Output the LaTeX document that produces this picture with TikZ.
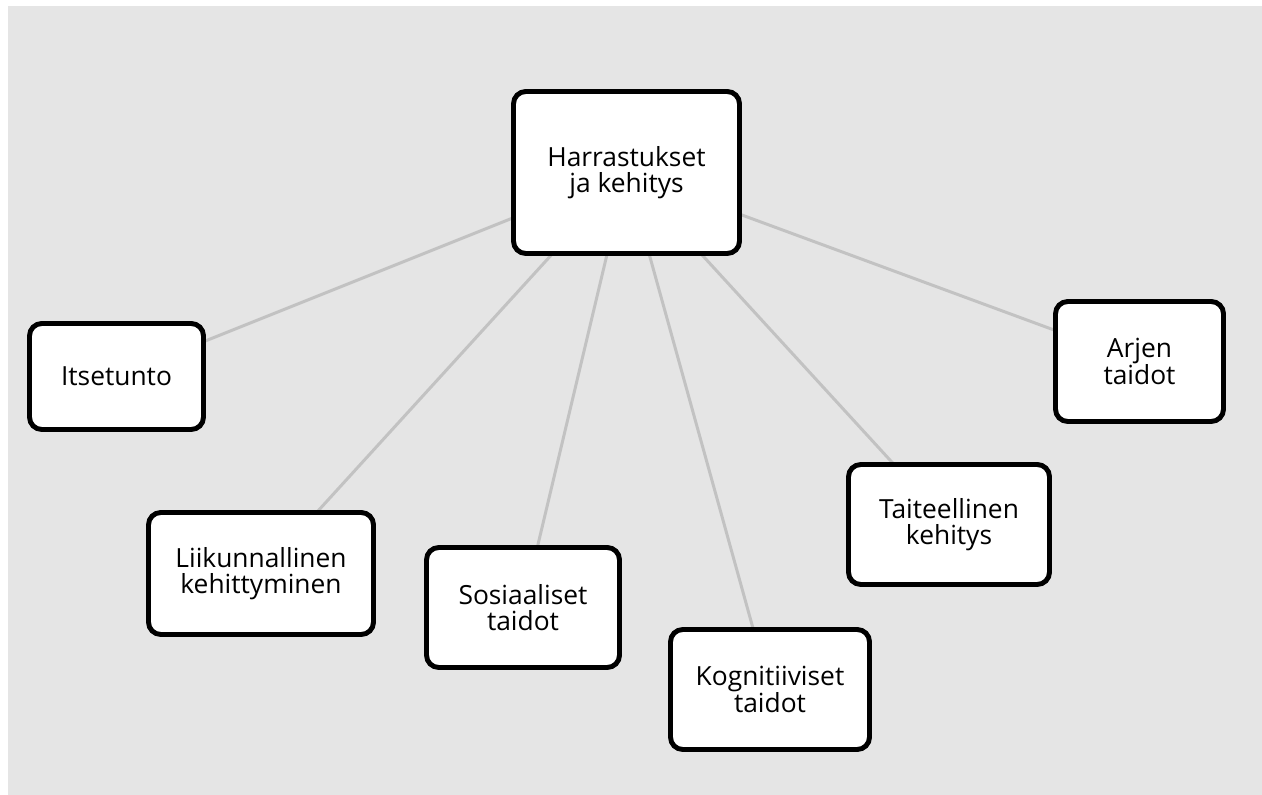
\documentclass[tikz,border=0pt]{standalone}
\usepackage{fontspec}
\setmainfont{Open Sans}
\usepackage{xcolor}
\usepackage{tikz}
\usetikzlibrary{backgrounds}

\definecolor{bggray}{RGB}{229,229,229}
\definecolor{linkgray}{RGB}{194,194,194}

\begin{document}
\begin{tikzpicture}[
    topic/.style={rectangle, draw=black, fill=white, line width=1.4pt, rounded corners=3.5pt, align=center, font=\fontsize{7.5}{7.5}\selectfont, inner sep=2pt},
    link/.style={draw=linkgray, line width=0.85pt}
]

% Canvas
\useasboundingbox (0,0) rectangle (12.62,-7.95);

% Central topic
\node[topic, minimum width=2.26cm, minimum height=1.62cm] (hub) at (6.265,-1.725) {Harrastukset\\ja kehitys};

% Surrounding topics
\node[topic, minimum width=1.74cm, minimum height=1.06cm] (itse) at (1.165,-3.765) {Itsetunto};
\node[topic, minimum width=1.68cm, minimum height=1.20cm] (arjen) at (11.395,-3.615) {Arjen\\taidot};
\node[topic, minimum width=2.25cm, minimum height=1.22cm] (liik) at (2.61,-5.735) {Liikunnallinen\\kehittyminen};
\node[topic, minimum width=1.93cm, minimum height=1.20cm] (sos) at (5.23,-6.075) {Sosiaaliset\\taidot};
\node[topic, minimum width=1.99cm, minimum height=1.20cm] (kog) at (7.70,-6.895) {Kognitiiviset\\taidot};
\node[topic, minimum width=2.01cm, minimum height=1.20cm] (tait) at (9.49,-5.245) {Taiteellinen\\kehitys};

% Background and links
\begin{scope}[on background layer]
\fill[bggray] (0.08,-0.06) rectangle (12.62,-7.95);
\draw[link] (hub.center) -- (itse.center);
\draw[link] (hub.center) -- (arjen.center);
\draw[link] (hub.center) -- (liik.center);
\draw[link] (hub.center) -- (sos.center);
\draw[link] (hub.center) -- (kog.center);
\draw[link] (hub.center) -- (tait.center);
\end{scope}

\end{tikzpicture}
\end{document}
